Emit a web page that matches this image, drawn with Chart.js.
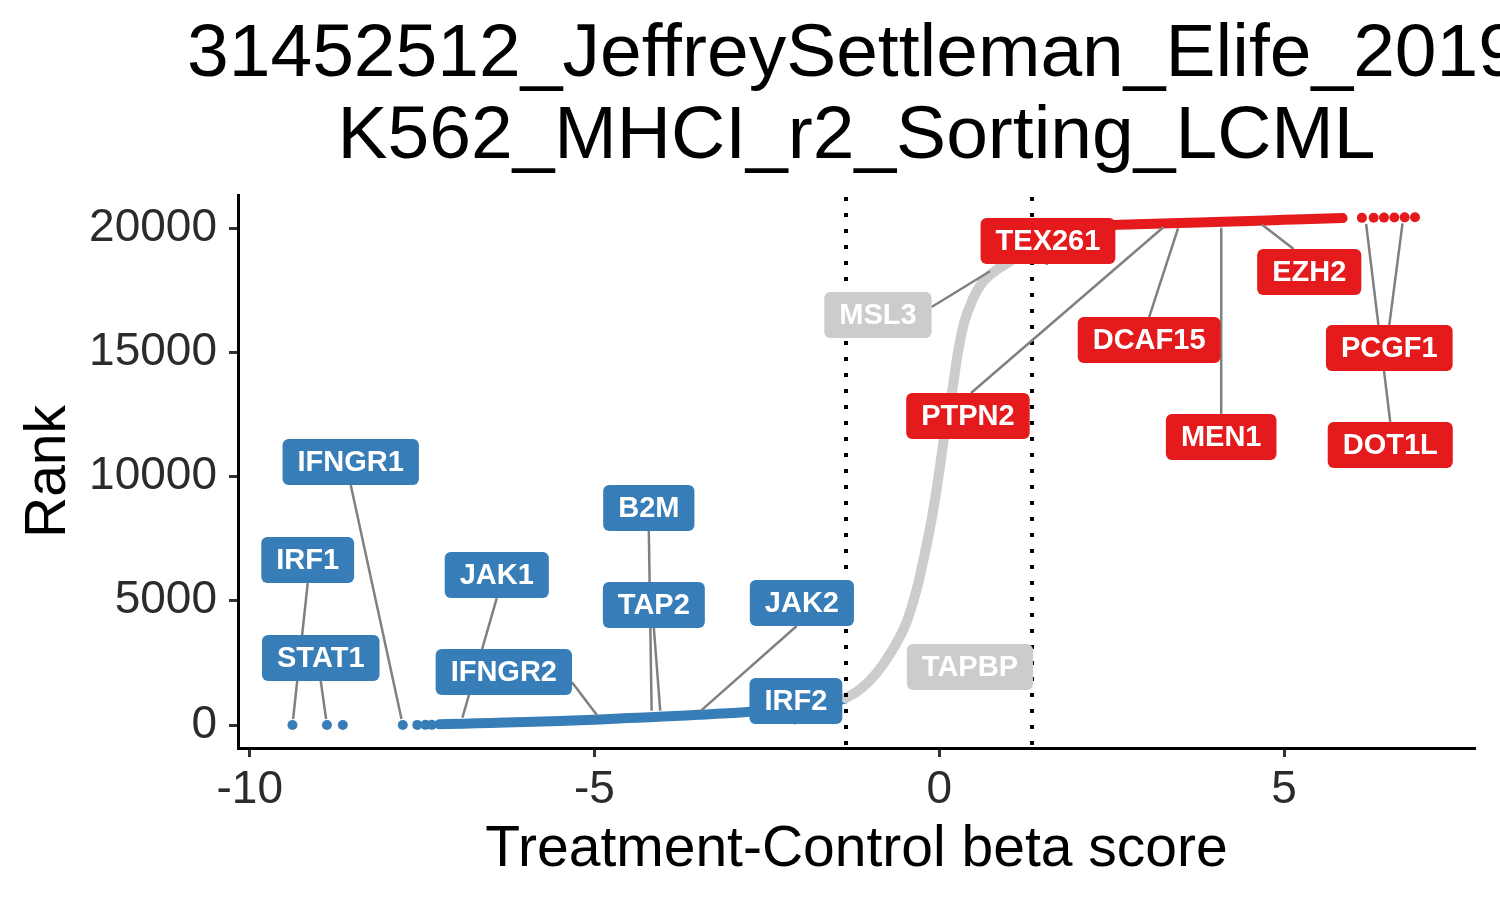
<!DOCTYPE html>
<html>
<head>
<meta charset="utf-8">
<script src="https://cdn.jsdelivr.net/npm/chart.js@4.4.1/dist/chart.umd.min.js"></script>
<style>
  html, body { margin: 0; padding: 0; background: #ffffff; }
  #wrap { width: 1500px; height: 900px; }
</style>
</head>
<body>
<div id="wrap"><canvas id="c" width="1500" height="900"></canvas></div>
<script>
// ---------------- data ----------------
const titleLines = ["31452512_JeffreySettleman_Elife_2019", "K562_MHCI_r2_Sorting_LCML"];
const xTitle = "Treatment-Control beta score";
const yTitle = "Rank";
const xTicks = [-10, -5, 0, 5];
const yTicks = [0, 5000, 10000, 15000, 20000];
const cutoffs = [-1.35, 1.35];

// isolated negative-selection genes (blue dots)
const blueDotBeta = [-9.38, -8.88, -8.65, -7.78, -7.57, -7.45, -7.36];
const blueDotRank = [1, 2, 3, 4, 5, 6, 7];
// dense blue band
const blueBeta = [-7.25, -6.9, -6.5, -6.0, -5.5, -5.0, -4.5, -4.0, -3.5, -3.0, -2.75, -2.3, -2.0, -1.7, -1.38];
const blueRank = [30, 55, 85, 120, 165, 215, 280, 340, 410, 480, 530, 620, 720, 860, 1050];
// gray (non-significant) band
const grayBeta = [-1.36, -1.16, -0.91, -0.68, -0.48, -0.33, -0.22, -0.12, -0.04, 0.03, 0.10, 0.19, 0.26, 0.36, 0.48, 0.62, 0.83, 1.01, 1.20, 1.34];
const grayRank = [1080, 1410, 2090, 3020, 4100, 5430, 6760, 8130, 9460, 10790, 12150, 13480, 14810, 16180, 17100, 17790, 18310, 18630, 19000, 19300];
// dense red band
const redBeta = [1.36, 1.6, 2.0, 2.54, 3.0, 3.5, 4.0, 4.5, 5.0, 5.5, 5.85];
const redRank = [19330, 19750, 20000, 20120, 20160, 20200, 20245, 20285, 20330, 20370, 20400];
// isolated positive-selection genes (red dots)
const redDotBeta = [6.13, 6.30, 6.45, 6.60, 6.75, 6.90];
const redDotRank = [20410, 20415, 20420, 20425, 20430, 20435];

// labelled genes
const labelGenes = ["IFNGR1","IRF1","STAT1","JAK1","IFNGR2","B2M","TAP2","JAK2","IRF2","MSL3","TAPBP","TEX261","PTPN2","DCAF15","EZH2","MEN1","PCGF1","DOT1L"];
const labelGroup = ["neg","neg","neg","neg","neg","neg","neg","neg","neg","ns","ns","pos","pos","pos","pos","pos","pos","pos"];
const geneBeta = [-7.78, -9.38, -8.88, -6.94, -4.91, -4.17, -4.04, -3.52, -2.30, 0.81, null, 1.20, 3.32, 3.49, 4.61, 4.09, 6.73, 6.18];
const geneRank = [4, 1, 2, 60, 200, 330, 340, 420, 620, 18390, null, 19000, 20200, 20220, 20290, 20250, 20430, 20410];
// label box centres (data units) as placed by the repel layout
const labelBeta = [-8.535, -9.159, -8.97, -6.417, -6.315, -4.212, -4.139, -1.992, -2.079, -0.889, 0.445, 1.577, 0.416, 3.044, 5.366, 4.089, 6.527, 6.541];
const labelRank = [10584, 6640, 2696, 6036, 2133, 8732, 4829, 4909, 966, 16499, 2334, 19477, 12435, 15493, 18229, 11590, 15171, 11268];
// where the connector leaves the box (fraction of half-width / half-height)
const labelAnchor = [[0,1],[0,1],[0,1],[0,1],[1,0.45],[0,1],[0,1],[-0.1,1],[0,1],[1,-0.35],[0,1],[0,1],[0.05,-1],[0,-1],[-0.3,-1],[0,-1],[0,-1],[0,-1]];

// ---------------- styles ----------------
const FONT = "'Liberation Sans', Arial, Helvetica, sans-serif";
const BLUE = "#377EB8", RED = "#E41A1C", GRAY = "#CCCCCC";
const groupColor = { neg: BLUE, pos: RED, ns: GRAY };

function pts(xs, ys) { return xs.map((x, i) => ({ x: x, y: ys[i] })); }

const bandStyle = {
  showLine: true, pointRadius: 0, pointHoverRadius: 0, borderWidth: 10,
  borderCapStyle: 'round', borderJoinStyle: 'round', cubicInterpolationMode: 'monotone'
};
const dotStyle = { showLine: false, pointRadius: 5, pointHoverRadius: 5, borderWidth: 0 };

const overlayPlugin = {
  id: 'overlay',
  afterDatasetsDraw(chart) {
    const ctx = chart.ctx, xs = chart.scales.x, ys = chart.scales.y, a = chart.chartArea;
    ctx.save();
    // dotted cutoff lines
    ctx.strokeStyle = '#000';
    ctx.lineWidth = 4;
    ctx.setLineDash([4, 12]);
    cutoffs.forEach(c => {
      const px = Math.round(xs.getPixelForValue(c));
      ctx.beginPath();
      ctx.moveTo(px, a.top + 2);
      ctx.lineTo(px, a.bottom);
      ctx.stroke();
    });
    ctx.setLineDash([]);
    // label boxes geometry
    ctx.font = "bold 29px " + FONT;
    const boxes = labelGenes.map((g, i) => {
      const w = ctx.measureText(g).width + 30, h = 46;
      const cx = xs.getPixelForValue(labelBeta[i]), cy = ys.getPixelForValue(labelRank[i]);
      return { cx, cy, w, h };
    });
    // connectors
    ctx.strokeStyle = '#808080';
    ctx.lineWidth = 2.5;
    boxes.forEach((b, i) => {
      if (geneBeta[i] === null) return;
      const px = xs.getPixelForValue(geneBeta[i]), py = ys.getPixelForValue(geneRank[i]);
      const sx = b.cx + labelAnchor[i][0] * b.w / 2, sy = b.cy + labelAnchor[i][1] * b.h / 2;
      const dx = px - sx, dy = py - sy, d = Math.hypot(dx, dy);
      if (d < 8) return;
      const ex = px - dx / d * 6, ey = py - dy / d * 6;
      ctx.beginPath();
      ctx.moveTo(sx, sy);
      ctx.lineTo(ex, ey);
      ctx.stroke();
    });
    // boxes and texts
    boxes.forEach((b, i) => {
      const col = groupColor[labelGroup[i]];
      ctx.fillStyle = col;
      ctx.beginPath();
      ctx.roundRect(b.cx - b.w / 2, b.cy - b.h / 2, b.w, b.h, 6);
      ctx.fill();
      ctx.fillStyle = '#ffffff';
      ctx.textAlign = 'center';
      ctx.textBaseline = 'middle';
      ctx.fillText(labelGenes[i], b.cx, b.cy + 1);
    });
    ctx.restore();
  },
  afterDraw(chart) {
    const ctx = chart.ctx, a = chart.chartArea;
    const midX = (a.left + a.right) / 2, midY = (a.top + a.bottom) / 2;
    ctx.save();
    ctx.fillStyle = '#000';
    ctx.textAlign = 'center';
    ctx.textBaseline = 'alphabetic';
    ctx.font = "75px " + FONT;
    ctx.fillText(titleLines[0], midX - 3, 76);
    ctx.fillText(titleLines[1], midX, 158);
    ctx.font = "57px " + FONT;
    ctx.fillText(xTitle, midX, 866);
    ctx.translate(65, midY);
    ctx.rotate(-Math.PI / 2);
    ctx.fillText(yTitle, 0, 0);
    ctx.restore();
  }
};

const tickFont = { size: 46, family: FONT };

new Chart(document.getElementById('c'), {
  type: 'scatter',
  data: {
    datasets: [
      Object.assign({ data: pts(grayBeta, grayRank), borderColor: GRAY, backgroundColor: GRAY }, bandStyle),
      Object.assign({ data: pts(blueBeta, blueRank), borderColor: BLUE, backgroundColor: BLUE }, bandStyle),
      Object.assign({ data: pts(redBeta, redRank), borderColor: RED, backgroundColor: RED }, bandStyle),
      Object.assign({ data: pts(blueDotBeta, blueDotRank), backgroundColor: BLUE, borderColor: BLUE }, dotStyle),
      Object.assign({ data: pts(redDotBeta, redDotRank), backgroundColor: RED, borderColor: RED }, dotStyle)
    ]
  },
  options: {
    responsive: false,
    animation: false,
    devicePixelRatio: 1,
    layout: { padding: { top: 195, right: 25, left: 0, bottom: 0 } },
    plugins: { legend: { display: false }, tooltip: { enabled: false }, title: { display: false } },
    scales: {
      x: {
        type: 'linear', min: -10.17, max: 7.77,
        afterBuildTicks: s => { s.ticks = xTicks.map(v => ({ value: v })); },
        afterFit: s => { s.height = 152; },
        grid: { drawOnChartArea: false, drawTicks: true, tickLength: 9, tickWidth: 3, tickColor: '#333333' },
        border: { display: true, color: '#000000', width: 3 },
        ticks: { font: tickFont, color: '#2b2b2b', padding: 6, maxRotation: 0, callback: v => String(v) }
      },
      y: {
        type: 'linear', min: -925, max: 21330,
        afterBuildTicks: s => { s.ticks = yTicks.map(v => ({ value: v })); },
        afterFit: s => { s.width = 238; },
        grid: { drawOnChartArea: false, drawTicks: true, tickLength: 9, tickWidth: 3, tickColor: '#333333' },
        border: { display: true, color: '#000000', width: 3 },
        ticks: { font: tickFont, color: '#2b2b2b', padding: 12, callback: v => String(v) }
      }
    }
  },
  plugins: [overlayPlugin]
});
</script>
</body>
</html>
